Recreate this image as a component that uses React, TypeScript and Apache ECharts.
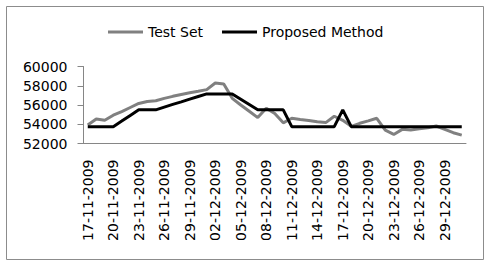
import React, { useEffect, useRef } from "react";
import * as echarts from "echarts";

const dates: string[] = [
  "17-11-2009", "18-11-2009", "19-11-2009", "20-11-2009", "21-11-2009", "22-11-2009",
  "23-11-2009", "24-11-2009", "25-11-2009", "26-11-2009", "27-11-2009", "28-11-2009",
  "29-11-2009", "30-11-2009", "01-12-2009", "02-12-2009", "03-12-2009", "04-12-2009",
  "05-12-2009", "06-12-2009", "07-12-2009", "08-12-2009", "09-12-2009", "10-12-2009",
  "11-12-2009", "12-12-2009", "13-12-2009", "14-12-2009", "15-12-2009", "16-12-2009",
  "17-12-2009", "18-12-2009", "19-12-2009", "20-12-2009", "21-12-2009", "22-12-2009",
  "23-12-2009", "24-12-2009", "25-12-2009", "26-12-2009", "27-12-2009", "28-12-2009",
  "29-12-2009", "30-12-2009", "31-12-2009",
];

const testSet: number[] = [
  53920, 54550, 54410, 54940, 55320, 55740, 56160, 56370, 56440, 56690,
  56900, 57100, 57270, 57430, 57600, 58290, 58190, 56690, 56000, 55350,
  54690, 55670, 55110, 54150, 54620, 54500, 54400, 54250, 54170, 54830,
  54410, 53780, 54100, 54350, 54620, 53380, 52940, 53470, 53400, 53540,
  53640, 53820, 53470, 53120, 52870,
];

const proposed: number[] = [
  53750, 53750, 53750, 53750, 54330, 54920, 55500, 55500, 55500, 55780,
  56060, 56330, 56610, 56880, 57150, 57150, 57150, 57150, 56600, 56050,
  55500, 55500, 55500, 55500, 53750, 53750, 53750, 53750, 53750, 53750,
  55500, 53750, 53750, 53750, 53750, 53750, 53750, 53750, 53750, 53750,
  53750, 53750, 53750, 53750, 53750,
];

const seriesNames: string[] = ["Test Set", "Proposed Method"];

export default function App() {
  const ref = useRef<HTMLDivElement>(null);
  useEffect(() => {
    if (!ref.current) return;
    const chart = echarts.init(ref.current, null, { renderer: "svg" });
    const font = "DejaVu Sans";
    chart.setOption({
      animation: false,
      backgroundColor: "#ffffff",
      textStyle: { fontFamily: font },
      graphic: [
        {
          type: "rect",
          shape: { x: 6.5, y: 6.5, width: 477, height: 253 },
          style: { fill: "none", stroke: "#8c8c8c", lineWidth: 1 },
          silent: true,
        },
      ],
      legend: {
        left: 108,
        top: 25,
        padding: 0,
        itemWidth: 35,
        itemHeight: 3,
        itemGap: 19,
        icon: "rect",
        textStyle: { fontFamily: font, fontSize: 14, color: "#000" },
        data: seriesNames,
      },
      grid: { left: 83.5, right: 23, top: 66.5, height: 77, containLabel: false },
      xAxis: {
        type: "category",
        data: dates,
        boundaryGap: true,
        axisLine: { lineStyle: { color: "#868686", width: 1 } },
        axisTick: { interval: 2, length: 4, lineStyle: { color: "#868686" } },
        axisLabel: {
          interval: 2,
          rotate: 90,
          margin: 16,
          fontFamily: font,
          fontSize: 14,
          color: "#000",
        },
      },
      yAxis: {
        type: "value",
        min: 52000,
        max: 60000,
        interval: 2000,
        axisLine: { show: true, lineStyle: { color: "#868686", width: 1 } },
        axisTick: { show: true, length: 6, lineStyle: { color: "#868686" } },
        splitLine: { show: false },
        axisLabel: {
          margin: 16,
          fontFamily: font,
          fontSize: 14,
          color: "#000",
          formatter: (v: number) => String(v),
        },
      },
      series: [
        {
          name: seriesNames[0],
          type: "line",
          data: testSet,
          showSymbol: false,
          symbol: "none",
          lineStyle: { color: "#808080", width: 3 },
          itemStyle: { color: "#808080" },
        },
        {
          name: seriesNames[1],
          type: "line",
          data: proposed,
          showSymbol: false,
          symbol: "none",
          lineStyle: { color: "#000000", width: 3 },
          itemStyle: { color: "#000000" },
        },
      ],
    });
    return () => chart.dispose();
  }, []);
  return (
    <div
      ref={ref}
      style={{ position: "absolute", left: 0, top: 0, width: 489, height: 264 }}
    />
  );
}
